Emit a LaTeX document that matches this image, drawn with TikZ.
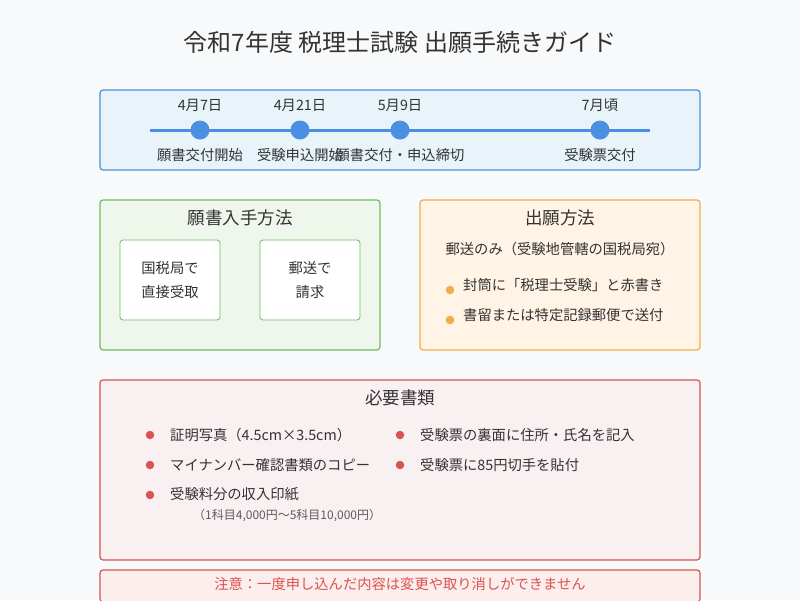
\documentclass[tikz,border=0pt]{standalone}
\usepackage{fontspec}
\setmainfont{Noto Sans CJK JP}
\definecolor{bg}{HTML}{F8F9FA}
\definecolor{tx}{HTML}{333333}
\definecolor{blu}{HTML}{4A90E2}
\definecolor{blufill}{HTML}{E8F3FA}
\definecolor{grn}{HTML}{6CBF5E}
\definecolor{grnfill}{HTML}{EFF6EC}
\definecolor{org}{HTML}{F0AD4E}
\definecolor{orgfill}{HTML}{FFF4E6}
\definecolor{rd}{HTML}{D9534F}
\definecolor{rdfill}{HTML}{F9F0F1}
\definecolor{notefill}{HTML}{FDEEEE}
\tikzset{
 panel/.style={draw=#1, line width=1.2pt, rounded corners=3pt},
 t/.style={text=tx, inner sep=0pt, font=\fontsize{17.5}{20}\selectfont},
 s/.style={text=tx, inner sep=0pt, font=\fontsize{14.3}{18}\selectfont},
 dot/.style={circle, fill=blu, minimum size=19pt, inner sep=0pt},
 bul/.style={circle, fill=#1, minimum size=8.5pt, inner sep=0pt},
 sub/.style={draw=grn, fill=white, line width=0.8pt, rounded corners=3pt, minimum width=100pt, minimum height=80pt, align=center, text=tx, font=\fontsize{14.3}{24}\selectfont},
}
\begin{document}
\begin{tikzpicture}[x=1pt,y=-1pt]
\fill[bg] (0,0) rectangle (800,600);
\useasboundingbox (0,0) rectangle (800,600);
\node[t, font=\fontsize{24}{28}\selectfont] (title) at (400,42) {令和7年度 税理士試験 出願手続きガイド};
% timeline
\draw[panel=blu, fill=blufill] (100,90) rectangle (700,170);
\draw[blu, line width=3pt] (150,130) coordinate (ls) -- (650,130) coordinate (le);
\foreach \x/\d/\l/\n in {200/4月7日/願書交付開始/a, 300/4月21日/受験申込開始/b, 400/5月9日/願書交付・申込締切/c, 600/7月頃/受験票交付/d}{
 \node[dot] (\n) at (\x,130) {};
 \node[s] (\n d) at (\x,105) {\d};
 \node[s] (\n l) at (\x,155) {\l};
}
% green
\draw[panel=grn, fill=grnfill] (100,200) rectangle (380,350);
\node[t] (gt) at (240,218) {願書入手方法};
\node[sub] (g1) at (170,280) {国税局で\\直接受取};
\node[sub] (g2) at (310,280) {郵送で\\請求};
% orange
\draw[panel=org, fill=orgfill] (420,200) rectangle (700,350);
\node[t] (ot) at (560,218) {出願方法};
\node[s] (o0) at (560,249) {郵送のみ（受験地管轄の国税局宛）};
\node[bul=org] (ob1) at (450,290) {};
\node[s, anchor=west] (o1) at (463,285) {封筒に「税理士受験」と赤書き};
\node[bul=org] (ob2) at (450,320) {};
\node[s, anchor=west] (o2) at (463,315) {書留または特定記録郵便で送付};
% red
\draw[panel=rd, fill=rdfill] (100,380) rectangle (700,560);
\node[t] (rt) at (400,398) {必要書類};
\node[bul=rd] (r1b) at (150,435) {};
\node[s, anchor=west] (r1) at (170,435) {証明写真（4.5cm×3.5cm）};
\node[bul=rd] (r2b) at (150,465) {};
\node[s, anchor=west] (r2) at (170,465) {マイナンバー確認書類のコピー};
\node[bul=rd] (r3b) at (150,495) {};
\node[s, anchor=west] (r3) at (170,494) {受験料分の収入印紙};
\node[s, anchor=west, font=\fontsize{12}{14}\selectfont, text=tx!80] (r3s) at (193,515) {（1科目4,000円～5科目10,000円）};
\node[bul=rd] (r4b) at (400,435) {};
\node[s, anchor=west] (r4) at (420,435) {受験票の裏面に住所・氏名を記入};
\node[bul=rd] (r5b) at (400,465) {};
\node[s, anchor=west] (r5) at (420,465) {受験票に85円切手を貼付};
% note
\draw[panel=rd, fill=notefill] (100,570) rectangle (700,602);
\node[s, text=rd] (note) at (400,584) {注意：一度申し込んだ内容は変更や取り消しができません};
\end{tikzpicture}
\end{document}
